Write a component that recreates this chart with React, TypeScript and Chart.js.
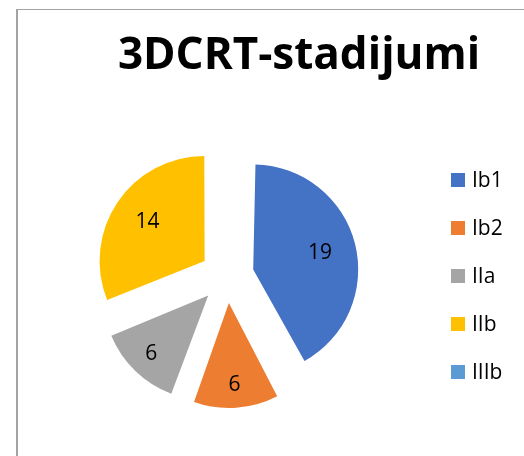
import React, { useEffect, useRef } from "react";
import { Chart, registerables } from "chart.js";

Chart.register(...registerables);

const TITLE = "3DCRT-stadijumi";
const categories = ["Ib1", "Ib2", "IIa", "IIb", "IIIb"];
const values = [19, 6, 6, 14, 0];
const colors = ["#4472C4", "#ED7D31", "#A5A5A5", "#FFC000", "#5B9BD5"];

const FONT = "'Open Sans', 'Liberation Sans', sans-serif";
const EXPLODE = 27; // translation of each slice in px
const RADIUS = 105;

// Chart.js grows the radius of exploded arcs; keep every slice the same size
const radiusFixPlugin = {
  id: "radiusFix",
  afterDatasetsUpdate(chart: any) {
    const meta = chart.getDatasetMeta(0);
    meta.data.forEach((arc: any) => {
      const fix = 1 - Math.sin(Math.min(Math.PI, arc.circumference || 0));
      arc.outerRadius = RADIUS - EXPLODE * fix;
    });
  },
};

const valueLabelPlugin = {
  id: "valueLabels",
  afterDatasetsDraw(chart: any) {
    const ctx = chart.ctx;
    const meta = chart.getDatasetMeta(0);
    const data = chart.data.datasets[0].data;
    ctx.save();
    ctx.font = `21px ${FONT}`;
    ctx.fillStyle = "#000";
    ctx.textAlign = "center";
    ctx.textBaseline = "middle";
    meta.data.forEach((arc: any, i: number) => {
      const v = data[i];
      if (!v) return;
      const mid = (arc.startAngle + arc.endAngle) / 2;
      const frac = arc.circumference < 1.2 ? 0.78 : 0.655;
      const d = EXPLODE + frac * RADIUS;
      ctx.fillText(String(v), arc.x + Math.cos(mid) * d, arc.y + Math.sin(mid) * d);
    });
    ctx.restore();
  },
};

const titleLegendPlugin = {
  id: "titleLegend",
  afterDraw(chart: any) {
    const ctx = chart.ctx;
    const area = chart.chartArea;
    ctx.save();
    // title
    ctx.font = `bold 44px ${FONT}`;
    ctx.fillStyle = "#000";
    ctx.textAlign = "center";
    ctx.textBaseline = "alphabetic";
    ctx.fillText(TITLE, 299, 69);
    // legend
    const labels: string[] = chart.data.labels;
    const bg: string[] = chart.data.datasets[0].backgroundColor;
    const cy = (area.top + area.bottom) / 2;
    const step = 48;
    const box = 14;
    const bx = 451;
    ctx.font = `21px ${FONT}`;
    ctx.textAlign = "left";
    ctx.textBaseline = "middle";
    labels.forEach((lab, i) => {
      const y = cy + (i - (labels.length - 1) / 2) * step;
      ctx.fillStyle = bg[i];
      ctx.fillRect(bx, y - box / 2, box, box);
      ctx.fillStyle = "#000";
      ctx.fillText(lab, bx + box + 7, y + 1);
    });
    ctx.restore();
  },
};

export default function App() {
  const ref = useRef<HTMLCanvasElement>(null);
  useEffect(() => {
    if (!ref.current) return;
    const chart = new Chart(ref.current, {
      type: "pie",
      data: {
        labels: categories,
        datasets: [
          {
            data: values,
            backgroundColor: colors,
            borderWidth: 0,
            offset: EXPLODE * 4,
          },
        ],
      },
      options: {
        responsive: false,
        animation: false,
        radius: RADIUS,
        layout: { padding: { left: 122, right: 192, top: 171, bottom: 75 } },
        plugins: {
          legend: { display: false },
          title: { display: false },
          tooltip: { enabled: false },
        },
      } as any,
      plugins: [radiusFixPlugin, valueLabelPlugin, titleLegendPlugin],
    });
    return () => chart.destroy();
  }, []);

  return (
    <div
      style={{
        position: "fixed",
        left: 0,
        top: 0,
        width: 524,
        height: 456,
        overflow: "hidden",
        background: "#fff",
      }}
    >
      <div
        style={{
          position: "absolute",
          left: 16,
          top: 9,
          width: 700,
          height: 700,
          borderLeft: "2px solid #a3a3a3",
          borderTop: "1px solid #a3a3a3",
        }}
      />
      <canvas
        ref={ref}
        width={524}
        height={456}
        style={{ position: "absolute", left: 0, top: 0, width: 524, height: 456 }}
      />
    </div>
  );
}
